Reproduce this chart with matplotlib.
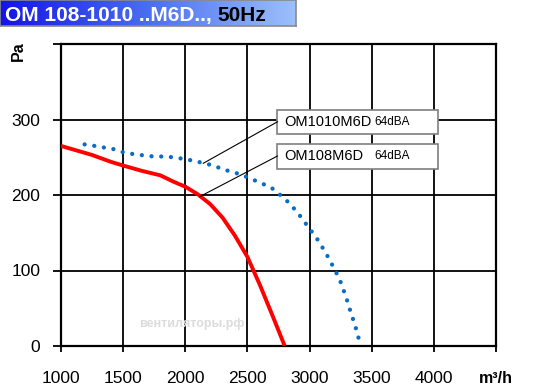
import numpy as np
import matplotlib
matplotlib.use("Agg")
import matplotlib.pyplot as plt
from matplotlib.patches import Rectangle
from matplotlib.colors import LinearSegmentedColormap

plt.rcParams['font.family'] = ['Liberation Sans', 'DejaVu Sans']

# ---- data ----
red_x = [1000, 1250, 1400, 1500, 1650, 1800, 1900, 2000, 2100, 2200, 2300, 2400, 2500, 2600, 2700, 2800]
red_y = [265, 253, 244, 239, 232, 226, 218, 211, 201, 188, 170, 146, 118, 81, 41, 0]

blue_x = [1190, 1270, 1340, 1400, 1470, 1540, 1600, 1680, 1750, 1830, 1900, 1980, 2080, 2150,
          2230, 2300, 2370, 2410, 2480, 2550, 2620, 2690, 2750, 2800, 2850, 2900, 2950, 2990,
          3040, 3080, 3120, 3155, 3190, 3240, 3265, 3290, 3315, 3335, 3360, 3380, 3400]
blue_y = [267, 265, 263, 262, 258, 255, 254, 252, 251, 251, 250, 248, 245, 242,
          239, 234, 231, 229, 225, 220, 215, 210, 202, 195, 187, 177, 167, 157,
          147, 137, 126, 116, 105, 89, 78, 66, 54, 42, 31, 19, 7]

x_ticks = [1000, 1500, 2000, 2500, 3000, 3500, 4000, 4500]
x_labels = ['1000', '1500', '2000', '2500', '3000', '3500', '4000', 'm³/h']
y_ticks = [0, 100, 200, 300, 400]
y_labels = ['0', '100', '200', '300', '']

title_main = 'OM 108-1010 ..M6D.., '
title_freq = '50Hz'
label_blue = ('OM1010M6D', '64dBA')
label_red = ('OM108M6D', '64dBA')

# ---- figure ----
W, H = 547, 391
fig = plt.figure(figsize=(W / 100, H / 100), dpi=100)
fig.patch.set_facecolor('white')

ax = fig.add_axes([61 / W, 1 - 346 / H, (496 - 61) / W, (346 - 44) / H])
ax.set_xlim(1000, 4500)
ax.set_ylim(0, 400)

ax.grid(True, color='black', linewidth=1.3)
ax.set_axisbelow(True)
for s in ax.spines.values():
    s.set_linewidth(1.6)
    s.set_color('black')

ax.set_xticks(x_ticks)
ax.set_xticklabels(x_labels, fontsize=12.5)
ax.set_yticks(y_ticks)
ax.set_yticklabels(y_labels, fontsize=12.5)
ax.get_xticklabels()[-1].set_fontweight('bold')
ax.get_xticklabels()[-1].set_fontsize(11.5)
ax.tick_params(axis='x', length=4, width=1.3, pad=14, direction='out')
ax.tick_params(axis='y', length=6, width=1.3, pad=9, direction='out')

ax.text(-0.098, 0.975, 'Pa', transform=ax.transAxes, rotation=90, fontsize=11.5,
        fontweight='bold', ha='center', va='center')

# watermark
ax.text(2050, 29, 'вентиляторы.рф', fontsize=9, fontweight='bold', color='#dcdcdc',
        ha='center', va='center', zorder=1)

ax.plot(red_x, red_y, color='#ff0000', linewidth=2.8, solid_capstyle='butt', zorder=3)
ax.plot(blue_x, blue_y, color='#0a6cc4', linewidth=3.1,
        linestyle=(0, (0.01, 2.25)), dash_capstyle='round', zorder=3)

# label boxes
def px2data(px, py):
    return 1000 + (px - 62) * 500 / 62, (346 - py) / 0.755

for (name, db), (top, bottom), target in [
        (label_blue, (109.5, 134), (2145, 242)),
        (label_red, (143.5, 168.5), (2118, 198))]:
    x0, y0 = px2data(278, bottom)
    x1, y1 = px2data(438, top)
    rect = Rectangle((x0, y0), x1 - x0, y1 - y0, facecolor='white', edgecolor='#7f7f7f',
                     linewidth=1.2, zorder=4)
    ax.add_patch(rect)
    ym = (y0 + y1) / 2
    ax.plot([x0, target[0]], [ym, target[1]], color='black', linewidth=0.8, zorder=4)
    tx, _ = px2data(285, 0)
    ax.text(tx, ym, name, fontsize=10.5, ha='left', va='center', zorder=5)
    tx2, _ = px2data(375, 0)
    ax.text(tx2, ym, db, fontsize=8.5, ha='left', va='center', zorder=5)

# title bar
tax = fig.add_axes([0, 1 - 26 / H, 296 / W, 26 / H])
cmap = LinearSegmentedColormap.from_list('tb', ['#1414e6', '#4a6ef0', '#9cc0fa'])
grad = np.linspace(0, 1, 256).reshape(1, -1)
tax.imshow(grad, aspect='auto', cmap=cmap, extent=[0, 1, 0, 1])
tax.set_xlim(0, 1)
tax.set_ylim(0, 1)
tax.set_xticks([])
tax.set_yticks([])
for s in tax.spines.values():
    s.set_color('#8a8a8a')
    s.set_linewidth(1.2)
t1 = tax.text(0.017, 0.42, title_main, color='white', fontsize=15, fontweight='bold',
              ha='left', va='center')
fig.canvas.draw()
bb = t1.get_window_extent()
inv = tax.transAxes.inverted()
xe = inv.transform((bb.x1, bb.y0))[0]
tax.text(xe, 0.42, title_freq, color='black', fontsize=15, fontweight='bold',
         ha='left', va='center')

fig.savefig('out.png', dpi=100)
